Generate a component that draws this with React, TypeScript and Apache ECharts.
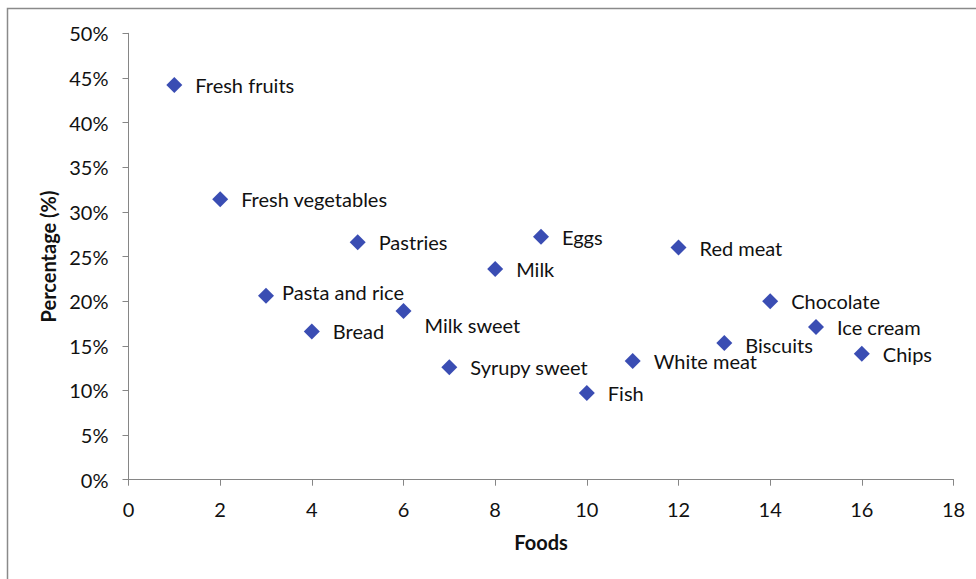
import React, { useEffect, useRef } from "react";
import * as echarts from "echarts";

const foods = [
  "Fresh fruits", "Fresh vegetables", "Pasta and rice", "Bread", "Pastries",
  "Milk sweet", "Syrupy sweet", "Milk", "Eggs", "Fish", "White meat",
  "Red meat", "Biscuits", "Chocolate", "Ice cream", "Chips",
];
const foodIndex = [1, 2, 3, 4, 5, 6, 7, 8, 9, 10, 11, 12, 13, 14, 15, 16];
const percentages = [
  0.442, 0.314, 0.206, 0.166, 0.266, 0.189, 0.126, 0.236, 0.272, 0.097,
  0.133, 0.26, 0.153, 0.2, 0.171, 0.141,
];
// label nudges (styling only)
const labelNudge: Record<string, [number, number]> = {
  "Pasta and rice": [-5, -4],
  "Milk sweet": [0, 14],
  "Biscuits": [0, 2],
};

const FONT = "Lato";

export default function App() {
  const ref = useRef<HTMLDivElement>(null);
  useEffect(() => {
    if (!ref.current) return;
    const chart = echarts.init(ref.current, null, { renderer: "svg" });
    const data = foods.map((name, i) => ({
      name,
      value: [foodIndex[i], percentages[i]],
      label: labelNudge[name] ? { offset: labelNudge[name] } : undefined,
    }));
    chart.setOption({
      animation: false,
      backgroundColor: "#ffffff",
      textStyle: { fontFamily: FONT },
      graphic: [
        {
          type: "rect",
          shape: { x: 7.5, y: 8.5, width: 1000, height: 600 },
          style: { fill: "none", stroke: "#8a8a8a", lineWidth: 1.5 },
          silent: true,
        },
      ],
      grid: { left: 128.5, right: 22.5, top: 33.3, bottom: 99.3, containLabel: false },
      xAxis: {
        type: "value",
        min: 0,
        max: 18,
        interval: 2,
        name: "Foods",
        nameLocation: "middle",
        nameGap: 52,
        nameTextStyle: { fontFamily: FONT, fontSize: 20, fontWeight: "bold", color: "#111" },
        axisLine: { show: true, lineStyle: { color: "#868686", width: 1 } },
        axisTick: { show: true, length: 6, lineStyle: { color: "#868686" } },
        axisLabel: { margin: 19, fontFamily: FONT, fontSize: 20, color: "#111" },
        splitLine: { show: false },
      },
      yAxis: {
        type: "value",
        min: 0,
        max: 0.5,
        interval: 0.05,
        name: "Percentage (%)",
        nameLocation: "middle",
        nameGap: 70,
        nameTextStyle: { fontFamily: FONT, fontSize: 20, fontWeight: "bold", color: "#111" },
        axisLine: { show: true, lineStyle: { color: "#868686", width: 1 } },
        axisTick: { show: true, length: 6, lineStyle: { color: "#868686" } },
        axisLabel: {
          margin: 20,
          fontFamily: FONT,
          fontSize: 20,
          color: "#111",
          formatter: (v: number) => `${Math.round(v * 100)}%`,
        },
        splitLine: { show: false },
      },
      series: [
        {
          type: "scatter",
          symbol: "diamond",
          symbolSize: 16,
          itemStyle: { color: "#3a4db3", opacity: 1 },
          data,
          label: {
            show: true,
            position: "right",
            distance: 13,
            formatter: "{b}",
            fontFamily: FONT,
            fontSize: 20,
            color: "#111",
          },
        },
      ],
    });
    return () => chart.dispose();
  }, []);
  return (
    <div
      ref={ref}
      style={{ position: "absolute", left: 0, top: 0, width: 976, height: 579 }}
    />
  );
}
